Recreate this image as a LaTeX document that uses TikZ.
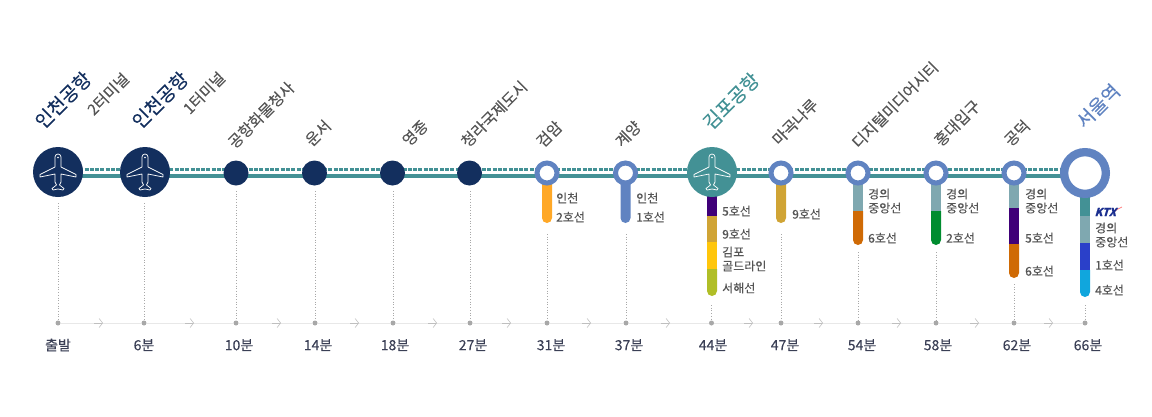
\documentclass[tikz,border=0pt]{standalone}
\usepackage{fontspec}
\setmainfont[FakeBold=0.15]{Noto Sans CJK KR}
\usetikzlibrary{arrows.meta}
\definecolor{navy}{HTML}{132F5E}
\definecolor{teal}{HTML}{439195}
\definecolor{ringblue}{HTML}{6083C1}
\definecolor{labelgray}{HTML}{555555}
\definecolor{timegray}{HTML}{A8A8A8}
\definecolor{timetext}{HTML}{3A3F55}
\definecolor{lightline}{HTML}{E8E8E8}
\definecolor{jungang}{HTML}{7FA8B0}
\definecolor{linefive}{HTML}{3F0078}
\definecolor{linenine}{HTML}{D0A435}
\definecolor{linesix}{HTML}{CF6A05}
\definecolor{linetwo}{HTML}{008C2F}
\definecolor{lineone}{HTML}{2A40C9}
\definecolor{linefour}{HTML}{10A6DD}
\definecolor{incheontwo}{HTML}{FFA827}
\definecolor{gold}{HTML}{FFC60B}
\definecolor{seohae}{HTML}{B0BE27}
\definecolor{ktxblue}{HTML}{1B2F8F}
\newcommand{\barpiece}[4]{\fill[#1] (#2-5,#3) rectangle (#2+5,#4);}
\newcommand{\barend}[4]{\fill[#1] (#2-5,#3) -- (#2-5,#4-5) arc (180:0:5) -- (#2+5,#3) -- cycle;}
\tikzset{
  airportstop/.style={circle,minimum size=50pt,inner sep=0pt,fill=#1},
  smallstop/.style={circle,minimum size=25pt,inner sep=0pt,fill=navy},
  ringstop/.style={circle,minimum size=20pt,inner sep=0pt,fill=white,draw=ringblue,line width=5pt},
  bigring/.style={circle,minimum size=41.7pt,inner sep=0pt,fill=white,draw=ringblue,line width=8.3pt},
  timedot/.style={circle,minimum size=5pt,inner sep=0pt,fill=timegray},
  mainline/.style={teal,line width=4pt},
  dashline/.style={teal,line width=2.2pt,dash pattern=on 4pt off 1.3pt},
  dropline/.style={timegray,line width=0.7pt,dotted},
  timeline/.style={lightline,line width=0.8pt},
  timearrow/.style={gray!50,line width=0.6pt,-{Straight Barb[length=3.5pt,width=9pt]}},
  stopname/.style={rotate=45,inner sep=0pt,text=labelgray,font=\fontsize{15.5}{16}\selectfont},
  bigname/.style={rotate=45,inner sep=0pt,font=\fontsize{19}{20}\selectfont},
  linelabel/.style={anchor=west,inner sep=0pt,text=labelgray,font=\fontsize{12}{14}\selectfont,align=left},
  timelabel/.style={inner sep=0pt,text=timetext,font=\fontsize{14}{15}\selectfont},
  plane/.pic={
    \draw[white,line width=0.7pt,line join=round] (-3,-15) arc (180:360:3) -- (3,-5) -- (18,2.5) -- (18,5) -- (3,2) -- (3,10) -- (1.5,13) -- (6,16.5) -- (5,18) -- (0,17) -- (-5,18) -- (-6,16.5) -- (-1.5,13) -- (-3,10) -- (-3,2) -- (-18,5) -- (-18,2.5) -- (-3,-5) -- cycle;
    \fill[white] (0,-14.5) circle (0.8);
  }
}
\begin{document}
\begin{tikzpicture}[x=1pt,y=-1pt]
\useasboundingbox (0,0) rectangle (1152,416);

%stations
\coordinate (s1) at (58,172);
\coordinate (s2) at (145,172);
\coordinate (s3) at (236,173);
\coordinate (s4) at (314.5,173);
\coordinate (s5) at (392.5,173);
\coordinate (s6) at (469.5,173);
\coordinate (s7) at (547,173);
\coordinate (s8) at (625.5,173);
\coordinate (s9) at (712,172);
\coordinate (s10) at (781,173);
\coordinate (s11) at (858,173);
\coordinate (s12) at (936,173);
\coordinate (s13) at (1014,173);
\coordinate (s14) at (1085,173);

%rail
\coordinate (railstart) at (58,176);
\coordinate (railend) at (1085,176);
\coordinate (dashstart) at (58,169.5);
\coordinate (dashend) at (1085,169.5);
\draw[mainline] (railstart) -- (railend);
\draw[dashline] (dashstart) -- (dashend);

%transfer lines
\barend{incheontwo}{547}{173}{223}
\barend{ringblue}{625.5}{173}{223}
\barpiece{linefive}{712}{190}{216}
\barpiece{linenine}{712}{216}{242}
\barpiece{gold}{712}{242}{269}
\barend{seohae}{712}{269}{296}
\barend{linenine}{781}{173}{223}
\barpiece{jungang}{858}{173}{211}
\barend{linesix}{858}{211}{245}
\barpiece{jungang}{936}{173}{211}
\barend{linetwo}{936}{211}{245}
\barpiece{jungang}{1014}{173}{208}
\barpiece{linefive}{1014}{208}{244}
\barend{linesix}{1014}{244}{278}
\barpiece{teal}{1085}{190}{216}
\barpiece{jungang}{1085}{216}{243}
\barpiece{lineone}{1085}{243}{270}
\barend{linefour}{1085}{270}{297}

%stops
\node[airportstop=navy] (a1) at (s1) {};
\node[airportstop=navy] (a2) at (s2) {};
\node[smallstop] (n3) at (s3) {};
\node[smallstop] (n4) at (s4) {};
\node[smallstop] (n5) at (s5) {};
\node[smallstop] (n6) at (s6) {};
\node[ringstop] (n7) at (s7) {};
\node[ringstop] (n8) at (s8) {};
\node[airportstop=teal] (a9) at (s9) {};
\node[ringstop] (n10) at (s10) {};
\node[ringstop] (n11) at (s11) {};
\node[ringstop] (n12) at (s12) {};
\node[ringstop] (n13) at (s13) {};
\node[bigring] (n14) at (s14) {};
\pic at (s1) {plane};
\pic at (s2) {plane};
\pic at (s9) {plane};

%time axis
\node[timedot] (t1) at (58,323) {};
\node[timedot] (t2) at (144,323) {};
\node[timedot] (t3) at (236,323) {};
\node[timedot] (t4) at (315,323) {};
\node[timedot] (t5) at (393,323) {};
\node[timedot] (t6) at (470,323) {};
\node[timedot] (t7) at (547,323) {};
\node[timedot] (t8) at (626,323) {};
\node[timedot] (t9) at (711.5,323) {};
\node[timedot] (t10) at (781,323) {};
\node[timedot] (t11) at (858,323) {};
\node[timedot] (t12) at (936,323) {};
\node[timedot] (t13) at (1014,323) {};
\node[timedot] (t14) at (1085,323) {};

\coordinate (m1) at (103,323);
\coordinate (m2) at (194,323);
\coordinate (m3) at (281,323);
\coordinate (m4) at (359,323);
\coordinate (m5) at (437,323);
\coordinate (m6) at (511,323);
\coordinate (m7) at (591,323);
\coordinate (m8) at (670,323);
\coordinate (m9) at (753,323);
\coordinate (m10) at (823,323);
\coordinate (m11) at (901,323);
\coordinate (m12) at (979,323);
\coordinate (m13) at (1053,323);
\draw[timeline] (t1) -- (t2) -- (t3) -- (t4) -- (t5) -- (t6) -- (t7) -- (t8) -- (t9) -- (t10) -- (t11) -- (t12) -- (t13) -- (t14);
\draw[timearrow] ([xshift=-9pt]m1) -- (m1);
\draw[timearrow] ([xshift=-9pt]m2) -- (m2);
\draw[timearrow] ([xshift=-9pt]m3) -- (m3);
\draw[timearrow] ([xshift=-9pt]m4) -- (m4);
\draw[timearrow] ([xshift=-9pt]m5) -- (m5);
\draw[timearrow] ([xshift=-9pt]m6) -- (m6);
\draw[timearrow] ([xshift=-9pt]m7) -- (m7);
\draw[timearrow] ([xshift=-9pt]m8) -- (m8);
\draw[timearrow] ([xshift=-9pt]m9) -- (m9);
\draw[timearrow] ([xshift=-9pt]m10) -- (m10);
\draw[timearrow] ([xshift=-9pt]m11) -- (m11);
\draw[timearrow] ([xshift=-9pt]m12) -- (m12);
\draw[timearrow] ([xshift=-9pt]m13) -- (m13);

%drop lines
\coordinate (d1) at (58,203);
\coordinate (d2) at (144,203);
\coordinate (d3) at (236,191);
\coordinate (d4) at (315,191);
\coordinate (d5) at (393,191);
\coordinate (d6) at (470,191);
\coordinate (d7) at (547,234);
\coordinate (d8) at (626,234);
\coordinate (d9) at (711.5,305);
\coordinate (d10) at (781,234);
\coordinate (d11) at (858,252);
\coordinate (d12) at (936,252);
\coordinate (d13) at (1014,284);
\coordinate (d14) at (1085,305);
\draw[dropline] (d1) -- (t1);
\draw[dropline] (d2) -- (t2);
\draw[dropline] (d3) -- (t3);
\draw[dropline] (d4) -- (t4);
\draw[dropline] (d5) -- (t5);
\draw[dropline] (d6) -- (t6);
\draw[dropline] (d7) -- (t7);
\draw[dropline] (d8) -- (t8);
\draw[dropline] (d9) -- (t9);
\draw[dropline] (d10) -- (t10);
\draw[dropline] (d11) -- (t11);
\draw[dropline] (d12) -- (t12);
\draw[dropline] (d13) -- (t13);
\draw[dropline] (d14) -- (t14);

%station names
\node[bigname,text=navy] (name1) at (63,100) {인천공항};
\node[stopname] (term1) at (108,94) {2터미널};
\node[bigname,text=navy] (name2) at (160,100) {인천공항};
\node[stopname] (term2) at (204,93) {1터미널};
\node[stopname] (name3) at (261,115) {공항화물청사};
\node[stopname] (name4) at (318,133) {운서};
\node[stopname] (name5) at (415,133) {영종};
\node[stopname] (name6) at (494,114) {청라국제도시};
\node[stopname] (name7) at (549,134) {검암};
\node[stopname] (name8) at (628,134) {계양};
\node[bigname,text=teal] (name9) at (731,101) {김포공항};
\node[stopname] (name10) at (795,122) {마곡나루};
\node[stopname] (name11) at (895,105) {디지털미디어시티};
\node[stopname] (name12) at (957,123) {홍대입구};
\node[stopname] (name13) at (1017,133) {공덕};
\node[bigname,text=ringblue] (name14) at (1098,106) {서울역};

%line labels
\node[linelabel] (l1) at (556,198) {인천};
\node[linelabel] (l2) at (556,217) {2호선};
\node[linelabel] (l3) at (636,198) {인천};
\node[linelabel] (l4) at (636,217) {1호선};
\node[linelabel] (l5) at (722,211) {5호선};
\node[linelabel] (l6) at (722,234) {9호선};
\node[linelabel] (l7) at (722,259) {김포\\골드라인};
\node[linelabel] (l8) at (722,288) {서해선};
\node[linelabel] (l9) at (792,214) {9호선};
\node[linelabel] (l10) at (868,201) {경의\\중앙선};
\node[linelabel] (l11) at (868,238) {6호선};
\node[linelabel] (l12) at (946,201) {경의\\중앙선};
\node[linelabel] (l13) at (946,238) {2호선};
\node[linelabel] (l14) at (1025,201) {경의\\중앙선};
\node[linelabel] (l15) at (1025,238) {5호선};
\node[linelabel] (l16) at (1025,271) {6호선};
\node[linelabel] (l17) at (1095,235) {경의\\중앙선};
\node[linelabel] (l18) at (1095,265) {1호선};
\node[linelabel] (l19) at (1095,290) {4호선};

%ktx mark
\draw[red!50,line width=0.7pt] (1113,213) .. controls (1116,210) and (1119,208) .. (1122,207);
\node[inner sep=0pt,text=ktxblue,font=\fontsize{11}{11}\bfseries\selectfont,xslant=0.3] (ktx) at (1106.5,212) {KTX};

%times
\node[timelabel] (time1) at (58,345) {출발};
\node[timelabel] (time2) at (144,345) {6분};
\node[timelabel] (time3) at (239,345) {10분};
\node[timelabel] (time4) at (318,345) {14분};
\node[timelabel] (time5) at (395,345) {18분};
\node[timelabel] (time6) at (473,345) {27분};
\node[timelabel] (time7) at (551,345) {31분};
\node[timelabel] (time8) at (629,345) {37분};
\node[timelabel] (time9) at (713,345) {44분};
\node[timelabel] (time10) at (785,345) {47분};
\node[timelabel] (time11) at (862,345) {54분};
\node[timelabel] (time12) at (938,345) {58분};
\node[timelabel] (time13) at (1017,345) {62분};
\node[timelabel] (time14) at (1088,345) {66분};
\end{tikzpicture}
\end{document}
